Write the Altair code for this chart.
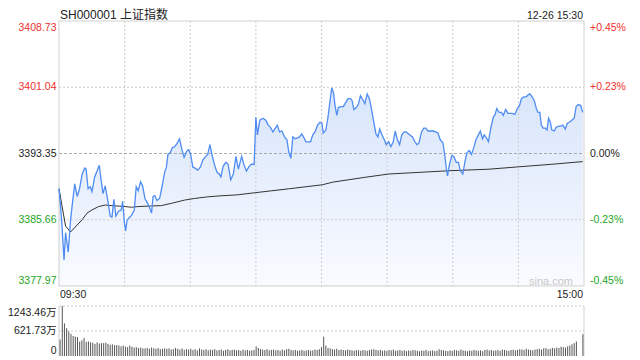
import altair as alt
import pandas as pd

TITLE = "SH000001 上证指数"
STAMP = "12-26 15:30"
WATERMARK = "sina.com"
PREV_CLOSE = 3393.35
PRICE_TICKS = [3408.73, 3401.04, 3393.35, 3385.66, 3377.97]
PCT_TICKS = ["+0.45%", "+0.23%", "0.00%", "-0.23%", "-0.45%"]
VOL_TICKS = [1243.46, 621.73, 0]
VOL_LABELS = ["1243.46万", "621.73万", "0"]
TIME_LABELS = ["09:30", "15:00"]
TIME_GRID = [30, 60, 90, 120, 150, 180, 210]

# minutes since 09:30 (trading minutes, 0..240) and index level
price_t = [0, 1.2, 2.3, 3.0, 4.2, 5.3, 6.3, 7.2, 8.3, 9.4, 10.6, 11.8, 12.4, 13.3, 14.3, 15.1,
           16.3, 17.4, 18.4, 19.3, 20.1, 21.1, 22.3, 23.4, 24.2, 25.1, 26.0, 27.2, 28.4, 29.1,
           29.9, 30.5, 31.1, 32.0, 33.2, 34.4, 35.3, 36.2, 37.3, 38.2, 39.3, 40.5, 41.5, 42.3,
           43.0, 43.8, 44.8, 46.0, 47.1, 48.3, 49.1, 49.8, 50.9, 51.8, 52.9, 53.9, 55.1, 56.2,
           57.2, 58.3, 59.2, 60.1, 61.2, 62.2, 63.4, 64.6, 65.7, 66.7, 68.0, 69.0, 69.9, 71.0,
           72.2, 73.2, 74.0, 75.0, 76.3, 77.3, 78.5, 79.7, 80.9, 82.0, 83.5, 84.5, 85.7, 87.0,
           88.0, 89.2, 90.0, 90.7, 91.8, 93.3, 94.5, 95.6, 96.6, 97.8, 98.9, 99.8, 100.8, 101.9,
           103.1, 104.2, 105.1, 106.0, 106.9, 108.0, 109.0, 109.9, 111.0, 112.0, 112.9, 114.1,
           115.0, 116.0, 117.0, 118.2, 119.3, 120.2, 120.8, 122.0, 122.9, 123.8, 124.7, 125.5,
           126.2, 127.0, 127.7, 128.8, 130.0, 131.0, 132.2, 133.3, 134.0, 134.8, 135.9, 136.8,
           137.8, 138.9, 139.8, 140.9, 141.9, 142.8, 143.9, 144.9, 145.8, 146.6, 147.7, 148.7,
           149.6, 150.7, 151.7, 152.8, 153.7, 154.7, 155.7, 156.7, 157.8, 158.7, 160.4, 161.6,
           162.7, 163.7, 164.6, 165.7, 166.8, 167.7, 168.7, 169.8, 171.0, 172.2, 173.2, 174.3,
           175.5, 176.3, 177.0, 177.6, 178.5, 179.6, 180.5, 181.6, 182.6, 183.5, 184.6, 185.6,
           186.5, 187.6, 188.6, 189.6, 190.6, 191.7, 192.6, 193.6, 194.4, 195.4, 196.3, 197.4,
           198.5, 199.4, 200.1, 201.2, 202.2, 203.1, 204.2, 205.3, 206.3, 207.2, 208.4, 209.5,
           210.5, 211.4, 212.5, 213.6, 214.5, 215.2, 216.3, 217.3, 218.2, 219.0, 219.8, 220.5,
           221.3, 222.3, 223.1, 223.8, 224.6, 225.3, 226.4, 227.3, 228.4, 229.4, 230.3, 231.4,
           232.4, 233.3, 234.4, 235.5, 236.4, 237.4, 238.5, 239.4]
price_v = [3389.26, 3385.67, 3380.98, 3384.16, 3381.89, 3385.67, 3387.94, 3389.83, 3388.36, 3389.26,
           3390.97, 3391.65, 3391.53, 3389.26, 3389.49, 3388.92, 3390.63, 3391.31, 3391.99, 3390.17,
           3388.70, 3389.60, 3387.90, 3386.09, 3385.97, 3388.02, 3386.09, 3386.65, 3386.77, 3387.79,
           3385.29, 3384.38, 3385.63, 3385.86, 3386.20, 3386.77, 3389.49, 3389.04, 3390.06, 3389.60,
           3388.13, 3387.56, 3386.99, 3386.43, 3388.36, 3388.47, 3387.90, 3388.13, 3389.49, 3391.19,
           3391.76, 3393.24, 3393.46, 3394.03, 3394.14, 3394.49, 3395.05, 3393.80, 3392.90, 3393.58,
           3393.80, 3393.35, 3391.76, 3391.65, 3391.42, 3391.76, 3392.56, 3392.90, 3393.24, 3394.37,
           3393.24, 3392.10, 3391.19, 3390.97, 3390.63, 3391.87, 3392.33, 3392.10, 3390.29, 3390.97,
           3393.01, 3391.53, 3393.01, 3392.10, 3391.31, 3391.87, 3392.10, 3392.10, 3397.55, 3395.51,
           3397.21, 3397.44, 3397.21, 3396.64, 3396.41, 3395.85, 3396.30, 3396.64, 3395.85, 3395.96,
           3395.28, 3394.94, 3393.46, 3392.78, 3395.28, 3395.05, 3395.17, 3395.28, 3395.62, 3395.17,
           3394.71, 3394.71, 3394.71, 3395.51, 3395.85, 3396.64, 3396.98, 3396.87, 3395.73, 3396.07,
           3397.44, 3399.25, 3400.96, 3400.39, 3398.91, 3397.78, 3398.68, 3398.80, 3398.80, 3399.25,
           3399.71, 3399.71, 3399.48, 3398.46, 3398.68, 3399.03, 3400.05, 3399.59, 3399.14, 3400.27,
           3399.71, 3398.57, 3396.98, 3395.62, 3395.28, 3396.19, 3395.51, 3394.94, 3394.37, 3394.71,
           3394.14, 3394.71, 3395.96, 3394.94, 3394.37, 3395.51, 3395.85, 3395.85, 3395.51, 3395.28,
           3394.71, 3394.37, 3394.60, 3395.85, 3396.30, 3396.30, 3395.96, 3395.96, 3395.96, 3395.85,
           3395.73, 3394.94, 3394.60, 3393.24, 3391.76, 3390.74, 3392.10, 3393.12, 3393.01, 3392.33,
           3392.33, 3391.31, 3390.97, 3392.44, 3393.46, 3393.69, 3393.24, 3394.03, 3394.94, 3395.51,
           3395.96, 3395.05, 3395.51, 3395.17, 3394.71, 3396.30, 3397.55, 3397.89, 3398.57, 3398.12,
           3398.12, 3397.78, 3398.46, 3398.00, 3398.00, 3398.00, 3397.89, 3398.57, 3398.91, 3399.71,
           3399.93, 3399.93, 3400.16, 3400.27, 3399.93, 3399.48, 3398.57, 3398.12, 3398.12, 3396.64,
           3396.30, 3396.30, 3396.07, 3397.44, 3396.98, 3396.07, 3395.96, 3396.41, 3396.53, 3396.53,
           3396.64, 3396.19, 3396.87, 3396.98, 3397.21, 3397.44, 3398.80, 3399.03, 3398.91, 3398.12]

avg_t = [0, 3.0, 5.3, 10.6, 12.8, 15.1, 18.1, 21.1, 24.2, 30.2, 33.2, 36.2, 42.3, 46.8, 51.3,
         57.4, 61.9, 68.0, 74.0, 81.5, 90.0, 105.0, 120.4, 125.0, 140.0, 150.7, 161.0, 177.6,
         196.6, 210.0, 225.3, 239.4]
avg_v = [3389.26, 3384.92, 3384.24, 3385.67, 3386.43, 3386.80, 3387.19, 3387.37, 3387.30, 3387.19,
         3387.11, 3387.19, 3387.26, 3387.30, 3387.56, 3387.94, 3388.13, 3388.32, 3388.44, 3388.55,
         3388.81, 3389.25, 3389.72, 3390.02, 3390.59, 3390.97, 3391.11, 3391.34, 3391.53, 3391.80,
         3392.10, 3392.41]

# per-minute volume, 万
volume = [
    410, 1243.46, 810, 690, 610, 550, 500, 480, 470, 360,
    390, 450, 350, 360, 340, 330, 300, 340, 310, 320,
    320, 330, 300, 280, 290, 270, 270, 260, 240, 260,
    230, 220, 260, 230, 210, 220, 200, 210, 190, 190,
    200, 180, 210, 190, 180, 200, 170, 180, 190, 180,
    190, 160, 170, 200, 180, 160, 190, 150, 170, 160,
    180, 150, 170, 140, 190, 160, 150, 170, 140, 160,
    150, 170, 140, 150, 160, 130, 150, 170, 140, 150,
    160, 140, 150, 130, 160, 140, 150, 130, 140, 150,
    240, 200, 170, 160, 150, 170, 140, 150, 160, 140,
    150, 130, 160, 140, 170, 180, 150, 140, 150, 130,
    140, 150, 130, 140, 150, 130, 140, 160, 150, 170,
    220, 480, 260, 200, 190, 170, 160, 180, 150, 160,
    150, 140, 160, 150, 140, 130, 150, 140, 130, 150,
    140, 130, 150, 160, 170, 150, 140, 150, 130, 140,
    130, 150, 140, 160, 130, 140, 150, 130, 140, 120,
    140, 130, 150, 140, 130, 120, 140, 130, 150, 120,
    130, 140, 120, 130, 170, 150, 140, 130, 120, 140,
    130, 150, 140, 130, 160, 140, 130, 120, 140, 130,
    150, 140, 130, 140, 120, 150, 160, 140, 150, 130,
    140, 150, 130, 160, 150, 140, 130, 150, 160, 140,
    150, 170, 160, 150, 180, 160, 150, 140, 160, 170,
    180, 160, 190, 200, 170, 180, 200, 190, 210, 200,
    230, 220, 210, 240, 260, 290, 320, 360, 0, 0,
    540,
]

# ---------------- layout ----------------
W = 525          # plot width
PH = 265         # price panel height
VT, VB = 285, 335  # volume panel top / bottom
H = VB
FONT = "Liberation Sans, Arial, Noto Sans CJK SC, sans-serif"
FS = 10.5
RED, GREEN, BLACK = "#f0302c", "#1ea51e", "#222222"
GRID = "#cccccc"
BORDER = "#cfcfcf"

def tick_color(v):
    if v > PREV_CLOSE + 1e-6:
        return RED
    if v < PREV_CLOSE - 1e-6:
        return GREEN
    return BLACK

xs = alt.Scale(domain=[0, 240], nice=False, zero=False)
py = alt.Scale(domain=[PRICE_TICKS[-1], PRICE_TICKS[0]], range=[PH, 0], nice=False, zero=False)
vy = alt.Scale(domain=[0, VOL_TICKS[0]], range=[VB, VT], nice=False, zero=False)
vx = alt.Scale(domain=[-0.5, len(volume) - 0.5], nice=False, zero=False)

price_df = pd.DataFrame({"t": price_t, "p": price_v})
avg_df = pd.DataFrame({"t": avg_t, "p": avg_v})
vol_df = pd.DataFrame({"i": list(range(len(volume))), "v": volume})
tick_df = pd.DataFrame({"p": PRICE_TICKS,
                        "lab": [f"{v:.2f}" for v in PRICE_TICKS],
                        "pct": PCT_TICKS,
                        "c": [tick_color(v) for v in PRICE_TICKS]})
vtick_df = pd.DataFrame({"v": VOL_TICKS, "lab": VOL_LABELS})

gradient = alt.Gradient(
    gradient="linear",
    stops=[alt.GradientStop(color="#f9fbff", offset=0),
           alt.GradientStop(color="#d8e5fb", offset=1)],
    x1=1, x2=1, y1=1, y2=0,
)

X = lambda f, s=xs: alt.X(f, scale=s, axis=None)
YP = lambda f: alt.Y(f, scale=py, axis=None)
YV = lambda f: alt.Y(f, scale=vy, axis=None)

layers = []

# area under price
layers.append(alt.Chart(price_df).mark_area(color=gradient).encode(
    x=X("t:Q"), y=YP("p:Q"), y2=alt.Y2Datum(PRICE_TICKS[-1])))

# grid lines
layers.append(alt.Chart(pd.DataFrame({"t": TIME_GRID})).mark_rule(
    color=GRID, strokeDash=[2, 2], strokeWidth=1).encode(
    x=X("t:Q"), y=alt.value(0), y2=alt.value(PH)))
layers.append(alt.Chart(pd.DataFrame({"p": [PRICE_TICKS[1], PRICE_TICKS[3]]})).mark_rule(
    color=GRID, strokeDash=[2, 2], strokeWidth=1).encode(
    y=YP("p:Q"), x=alt.value(0), x2=alt.value(W)))
layers.append(alt.Chart(pd.DataFrame({"p": [PREV_CLOSE]})).mark_rule(
    color="#aaaaaa", strokeDash=[3, 2], strokeWidth=1).encode(
    y=YP("p:Q"), x=alt.value(0), x2=alt.value(W)))

# price panel border
for enc in [dict(x=alt.value(0), y=alt.value(0), y2=alt.value(PH)),
            dict(x=alt.value(W), y=alt.value(0), y2=alt.value(PH)),
            dict(y=alt.value(0), x=alt.value(0), x2=alt.value(W)),
            dict(y=alt.value(PH), x=alt.value(0), x2=alt.value(W))]:
    layers.append(alt.Chart().mark_rule(color=BORDER, strokeWidth=1).encode(**enc))

# average and price lines
layers.append(alt.Chart(avg_df).mark_line(color="#333333", strokeWidth=1).encode(
    x=X("t:Q"), y=YP("p:Q")))
layers.append(alt.Chart(price_df).mark_line(color="#4f8cf3", strokeWidth=1.3).encode(
    x=X("t:Q"), y=YP("p:Q")))

# volume panel
layers.append(alt.Chart(vtick_df.iloc[:2]).mark_rule(
    color=GRID, strokeDash=[2, 2], strokeWidth=1).encode(
    y=YV("v:Q"), x=alt.value(0), x2=alt.value(W)))
for xv in [0, W]:
    layers.append(alt.Chart().mark_rule(color=BORDER, strokeWidth=1).encode(
        x=alt.value(xv), y=alt.value(VT), y2=alt.value(VB)))
layers.append(alt.Chart(vol_df).mark_rule(color="#555555", strokeWidth=1).encode(
    x=X("i:Q", vx), y=YV("v:Q"), y2=alt.Y2Datum(0)))

# axis labels (price left / pct right)
def price_labels(rows, baseline, dy):
    d = tick_df.iloc[rows]
    left = alt.Chart(d).mark_text(align="right", baseline=baseline, dy=dy,
                                  font=FONT, fontSize=FS).encode(
        x=alt.value(-2.5), y=YP("p:Q"), text="lab:N", color=alt.Color("c:N", scale=None))
    right = alt.Chart(d).mark_text(align="left", baseline=baseline, dy=dy,
                                   font=FONT, fontSize=FS).encode(
        x=alt.value(W + 6), y=YP("p:Q"), text="pct:N", color=alt.Color("c:N", scale=None))
    return [left, right]

layers += price_labels([0], "top", 2)
layers += price_labels([1, 2, 3], "middle", 0)
layers += price_labels([4], "bottom", 0)

def vol_label(row, baseline, dy):
    return alt.Chart(vtick_df.iloc[[row]]).mark_text(
        align="right", baseline=baseline, dy=dy, font=FONT, fontSize=FS, color=BLACK).encode(
        x=alt.value(-2.5), y=YV("v:Q"), text="lab:N")

layers += [vol_label(0, "top", 2), vol_label(1, "middle", 0), vol_label(2, "bottom", 0)]

# time labels, title, stamp, watermark
layers.append(alt.Chart().mark_text(align="left", baseline="middle", font=FONT, fontSize=FS,
                                    color=BLACK, text=TIME_LABELS[0]).encode(
    x=alt.value(1), y=alt.value(PH + 9)))
layers.append(alt.Chart().mark_text(align="right", baseline="middle", font=FONT, fontSize=FS,
                                    color=BLACK, text=TIME_LABELS[1]).encode(
    x=alt.value(W - 1), y=alt.value(PH + 9)))
layers.append(alt.Chart().mark_text(align="left", baseline="alphabetic", font=FONT, fontSize=12,
                                    color=BLACK, text=TITLE).encode(
    x=alt.value(1), y=alt.value(-2.5)))
layers.append(alt.Chart().mark_text(align="right", baseline="alphabetic", font=FONT, fontSize=FS,
                                    color=BLACK, text=STAMP).encode(
    x=alt.value(W - 1), y=alt.value(-2.5)))
layers.append(alt.Chart().mark_text(align="right", baseline="alphabetic", font=FONT, fontSize=11,
                                    color="#c8c8c8", text=WATERMARK).encode(
    x=alt.value(W - 11), y=alt.value(PH - 1.5)))

chart = alt.layer(*layers).resolve_scale(x="independent", y="independent").properties(
    width=W, height=H,
    autosize=alt.AutoSizeParams(type="none"),
    padding={"left": 51, "top": 13, "right": 46, "bottom": 4},
    background="white",
).configure_view(stroke=None)

chart.save("out.html", embed_options={"renderer": "svg", "actions": False})
